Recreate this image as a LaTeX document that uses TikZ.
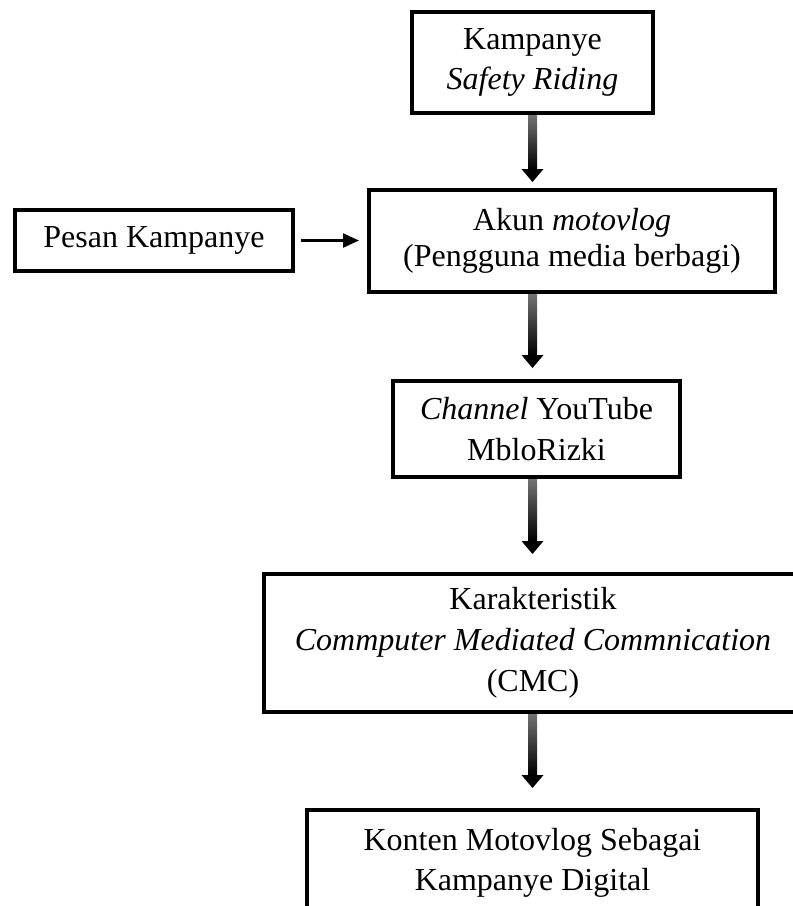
\documentclass[tikz,border=0pt]{standalone}
\usepackage{fontspec}
\setmainfont{Liberation Serif}
\usetikzlibrary{calc,arrows.meta}
\newcommand{\fatarrow}[2]{%
  \shade[top color=black!55, bottom color=black] ($(#1)+(-4.5,0)$) rectangle ($(#2)+(4.5,-13)$);
  \fill ($(#2)+(-11,-13)$) -- (#2) -- ($(#2)+(11,-13)$) -- cycle;}
\begin{document}
\begin{tikzpicture}[x=1pt,y=-1pt,
  boxnode/.style={draw, line width=3.8pt, align=center, inner sep=0pt},
  txtA/.style={font=\fontsize{32}{40}\selectfont},
  txtB/.style={font=\fontsize{32}{36}\selectfont},
  txtC/.style={font=\fontsize{32}{41}\selectfont},
  thinarrow/.style={line width=2.4pt, -{Triangle[length=16pt,width=14pt]}}
]
\useasboundingbox (0,0) rectangle (793,906);
\clip (0,0) rectangle (793,906);
\node[boxnode, txtA, minimum width=241.2, minimum height=101.2] (b1) at (532.5,62.5)
  {Kampanye\\\textit{Safety Riding}};
\node[boxnode, txtB, minimum width=406.2, minimum height=102.2] (b2) at (572,241)
  {Akun \textit{motovlog}\\(Pengguna media berbagi)};
\node[boxnode, txtA, minimum width=278.2, minimum height=61.2] (b0) at (154,240.5)
  {Pesan Kampanye};
\node[boxnode, txtC, minimum width=287.2, minimum height=96.2] (b3) at (536.5,429)
  {\textit{Channel} YouTube\\MbloRizki};
\node[boxnode, txtC, minimum width=538.2, minimum height=138.2] (b4) at (533,643)
  {Karakteristik\\\textit{Commputer Mediated Commnication}\\(CMC)};
\node[boxnode, txtA, minimum width=451.2, minimum height=106.2] (b5) at (532.5,863)
  {Konten Motovlog Sebagai\\Kampanye Digital};
% fat arrows
\coordinate (s1) at (b1.south);
\coordinate (t1) at ($(s1)+(0,67)$);
\fatarrow{s1}{t1}
\coordinate (s2) at (b1.south |- b2.south);
\coordinate (t2) at ($(s2)+(0,74)$);
\fatarrow{s2}{t2}
\coordinate (s3) at (b1.south |- b3.south);
\coordinate (t3) at ($(s3)+(0,75)$);
\fatarrow{s3}{t3}
\coordinate (s4) at (b1.south |- b4.south);
\coordinate (t4) at ($(s4)+(0,74)$);
\fatarrow{s4}{t4}
% thin arrow
\draw[thinarrow, shorten <=5.5pt, shorten >=8pt] (b0.east) -- (b0.east -| b2.west);
\end{tikzpicture}
\end{document}
